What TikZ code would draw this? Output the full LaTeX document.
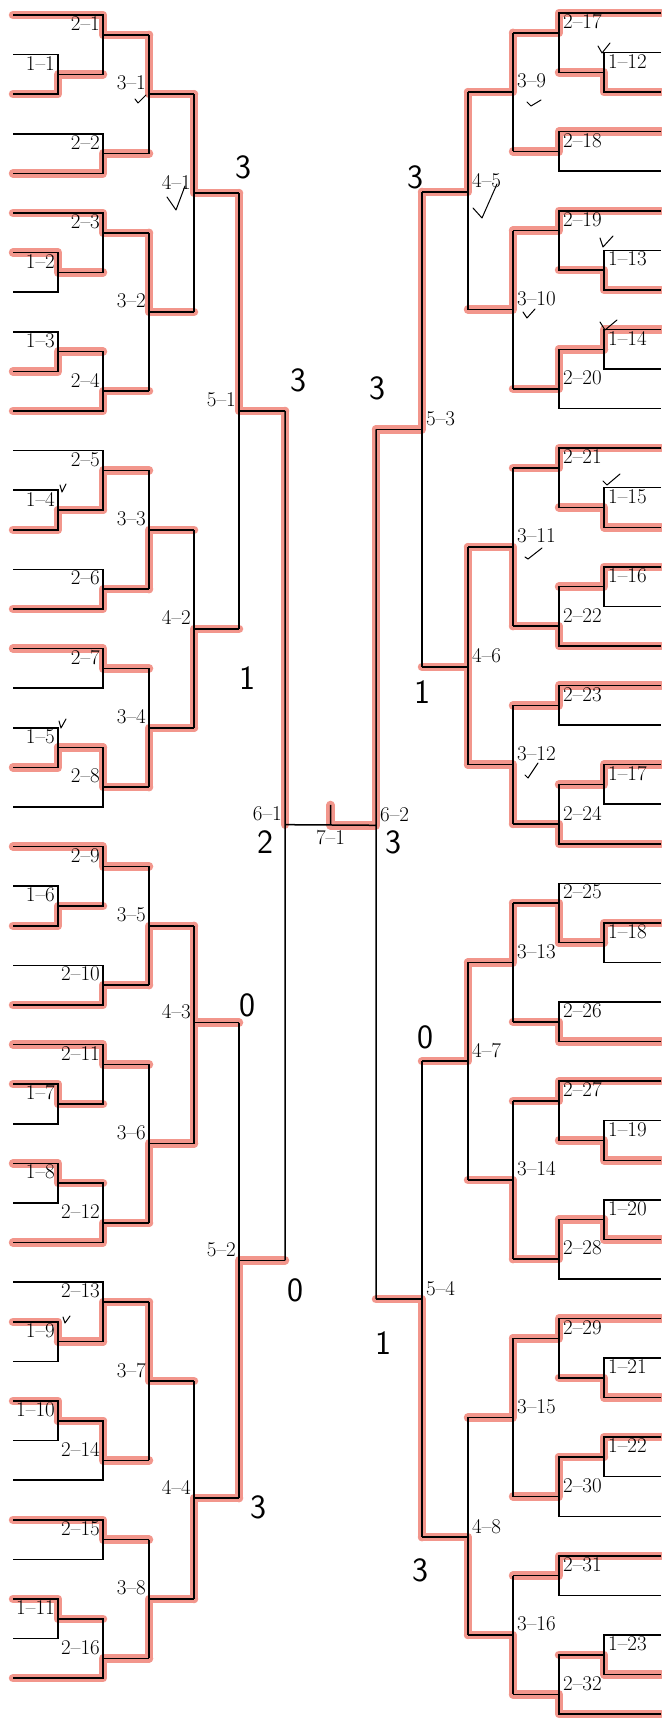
\documentclass[tikz,border=0pt]{standalone}
\usetikzlibrary{calc}

\pgfdeclarelayer{marks}
\pgfsetlayers{marks,main}

\definecolor{marker}{RGB}{242,150,140}

\tikzset{
  bracket/.style={line width=1.5pt},
  hilite/.style={marker, line width=8.5pt, line cap=round, line join=round},
  tag/.style={font=\fontsize{21}{21}\selectfont, inner sep=1pt},
  lab/.style={tag, anchor=\lanc, xshift=\lx, yshift=11pt},
  score/.style={font=\sffamily\fontsize{34}{34}\selectfont, inner sep=0pt},
  checkmark/.style={line width=1pt, line cap=round, line join=round},
}

% columns of one half (leaf end, rounds 1 to 3), first leaf and leaf pitch
\newcommand{\leftside}{\def\cA{13}\def\cB{58}\def\cC{103}\def\cD{149}%
  \def\yz{15}\def\pz{39.6}\def\lanc{east}\def\lx{-2pt}}
\newcommand{\rightside}{\def\cA{661}\def\cB{604}\def\cC{559}\def\cD{513}%
  \def\yz{13}\def\pz{39.56}\def\lanc{west}\def\lx{3pt}}

% marker stroke, kept under the lines
\newcommand{\hilite}[1]{\begin{pgfonlayer}{marks}\draw[hilite] #1;\end{pgfonlayer}}

% a 2-x match with its 1-x match (type 0: none, 1: on top, 2: below)
\newcommand{\pairs}{%
  \pgfmathsetmacro{\ya}{\yz+\pz*\lf}%
  \pgfmathsetmacro{\yb}{\yz+\pz*(\lf+1)}%
  \pgfmathsetmacro{\yc}{\yz+\pz*(\lf+2)}%
  \ifcase\ty
    \let\yt\ya \let\xt\cA \let\ybt\yb \let\xb\cA
    \pgfmathsetmacro{\yo}{(\ya+\yb)/2}%
  \or
    \let\yp\ya \let\yq\yb
    \pgfmathsetmacro{\yt}{(\ya+\yb)/2}\let\xt\cB \let\yf\yt
    \let\ybt\yc \let\xb\cA
    \pgfmathsetmacro{\yo}{(\yt+2*\ybt)/3}%
  \or
    \let\yt\ya \let\xt\cA
    \let\yp\yb \let\yq\yc
    \pgfmathsetmacro{\ybt}{(\yb+\yc)/2}\let\xb\cB \let\yf\ybt
    \pgfmathsetmacro{\yo}{(2*\yt+\ybt)/3}%
  \fi
  \ifnum\ty>0
    \ifnum\fw=1 \let\yw\yp \else \let\yw\yq \fi
    \hilite{(\cA,\yw) -- (\cB,\yw) -- (\cB,\yf) -- (\cC,\yf)}
    \draw[bracket] (\cA,\yp) -- (\cB,\yp) -- (\cB,\yq) -- (\cA,\yq) (\cB,\yf) -- (\cC,\yf);
    \node[lab] (n1-\fm) at (\cB,\yf) {1\textendash\fm};
  \fi
  \ifnum\wn=1 \let\yw\yt \let\xw\xt \else \let\yw\ybt \let\xw\xb \fi
  \hilite{(\xw,\yw) -- (\cC,\yw) -- (\cC,\yo) -- (\cD,\yo)}
  \draw[bracket] (\xt,\yt) -- (\cC,\yt) -- (\cC,\ybt) -- (\xb,\ybt) (\cC,\yo) -- (\cD,\yo);
  \coordinate (m2-\n) at (\cD,\yo);
  \node[lab] (n2-\n) at (\cC,\yo) {2\textendash\n};
}

% a match of round #1, fed by two matches of round #2
\newcommand{\fight}[2]{%
  \ifdim\sx pt>0pt \def\lanc{east}\def\lx{-2pt}\else\def\lanc{west}\def\lx{3pt}\fi
  \coordinate (v#1-\n) at ($(m#2-\ta)!.5!(m#2-\tb)+(0,\dy)$);
  \coordinate (m#1-\n) at ($(v#1-\n)+(\sx,0)$);
  \ifnum\wn=1 \coordinate (w) at (m#2-\ta); \else \coordinate (w) at (m#2-\tb); \fi
  \hilite{(w) -- (v#1-\n) -- (m#1-\n)}
  \draw[bracket] (m#2-\ta) -- (m#2-\tb) (v#1-\n) -- (m#1-\n);
  \node[lab] (n#1-\n) at (v#1-\n) {#1\textendash\n};
}

\begin{document}
\begin{tikzpicture}[x=1pt, y=-1pt]
  \useasboundingbox (0,0) rectangle (661,1731);

  % rounds 1 and 2, left half
  \leftside
  \foreach \n/\lf/\ty/\wn/\fm/\fw in {1/0/2/1/1/2, 2/3/0/2/0/0, 3/5/2/1/2/1, 4/8/1/2/3/2,
      5/11/2/2/4/2, 6/14/0/2/0/0, 7/16/0/1/0/0, 8/18/1/1/5/2,
      9/21/2/1/6/2, 10/24/0/2/0/0, 11/26/2/1/7/1, 12/29/1/2/8/1,
      13/32/2/2/9/1, 14/35/1/1/10/1, 15/38/0/1/0/0, 16/40/1/2/11/1}{\pairs}

  % rounds 1 and 2, right half
  \rightside
  \foreach \n/\lf/\ty/\wn/\fm/\fw in {17/0/2/1/12/2, 18/3/0/1/0/0, 19/5/2/1/13/2, 20/8/1/1/14/1,
      21/11/2/1/15/2, 22/14/1/2/16/1, 23/17/0/1/0/0, 24/19/1/2/17/1,
      25/22/2/2/18/1, 26/25/0/2/0/0, 27/27/2/1/19/2, 28/30/1/1/20/2,
      29/33/2/1/21/2, 30/36/1/1/22/1, 31/39/0/1/0/0, 32/41/1/2/23/2}{\pairs}

  % rounds 3 to 5 (shift > 0: left half)
  \foreach \n/\ta/\tb/\wn/\sx/\dy in {1/1/2/1/45/0, 2/3/4/1/45/0, 3/5/6/2/45/0, 4/7/8/2/45/0,
      5/9/10/2/45/0, 6/11/12/2/45/0, 7/13/14/1/45/0, 8/15/16/2/45/0,
      9/17/18/1/-45/0, 10/19/20/1/-45/0, 11/21/22/2/-45/0, 12/23/24/2/-45/0,
      13/25/26/1/-45/0, 14/27/28/2/-45/0, 15/29/30/1/-45/0, 16/31/32/2/-45/0}{\fight{3}{2}}
  \foreach \n/\ta/\tb/\wn/\sx/\dy in {1/1/2/1/45/-10, 2/3/4/2/45/0, 3/5/6/1/45/-12, 4/7/8/2/45/8,
      5/9/10/1/-46/-9, 6/11/12/1/-46/11, 7/13/14/1/-46/-10, 8/15/16/2/-46/11}{\fight{4}{3}}
  \foreach \n/\ta/\tb/\wn/\sx/\dy in {1/1/2/1/46/0, 2/3/4/2/46/0,
      3/5/6/1/-46/0, 4/7/8/2/-46/0}{\fight{5}{4}}
  % 4-3 and 4-6 are marked all the way
  \hilite{(m3-6) -- (v4-3)}
  \hilite{(m3-12) -- (v4-6)}

  % semifinals and final
  \coordinate (v6-1) at ($(m5-1)!.5!(m5-2)+(0,-11)$);
  \coordinate (v6-2) at ($(m5-3)!.5!(m5-4)+(0,-39)$);
  \coordinate (cup) at ($(v6-1)!.5!(v6-2)+(0,-20)$);
  \hilite{(m5-1) -- (v6-1)}
  \hilite{(m5-3) -- (v6-2) -- (cup |- v6-2) -- (cup)}
  \draw[bracket] (m5-1) -- (m5-2) (m5-3) -- (m5-4) (v6-1) -- (v6-2) (cup) -- (cup |- v6-1);
  \leftside
  \node[lab] (n6-1) at (v6-1) {6\textendash1};
  \rightside
  \node[lab] (n6-2) at (v6-2) {6\textendash2};
  \node[tag, anchor=north] (n7-1) at ($(cup |- v6-1)+(0,4)$) {7\textendash1};

  % handwritten scores
  \foreach \x/\y/\sc [count=\i] in {243/167/3, 298/380/3, 247/678/1, 265/842/2, 247/1005/0,
      295/1290/0, 258/1507/3, 415/177/3, 377/388/3, 422/692/1, 393/842/3,
      425/1037/0, 383/1343/1, 420/1570/3}{\node[score] (s\i) at (\x,\y) {\sc};}

  % ticks
  \draw[checkmark] (135,99) -- (138,103) -- (146,95)
    (167,197) -- (176,210) -- (185,186)
    (473,208) -- (482,218) -- (497,184)
    (527,102) -- (531,106) -- (541,100)
    (523,312) -- (527,318) -- (535,309)
    (598,46) -- (602,53) -- (610,43)
    (600,238) -- (603,247) -- (613,236)
    (600,322) -- (605,330) -- (617,320)
    (603,481) -- (607,485) -- (620,474)
    (525,557) -- (528,559) -- (542,548)
    (525,775) -- (528,778) -- (538,763)
    (60,485) -- (62,492) -- (66,484)
    (59,721) -- (61,728) -- (66,719)
    (63,1317) -- (65,1323) -- (70,1316);
\end{tikzpicture}
\end{document}
